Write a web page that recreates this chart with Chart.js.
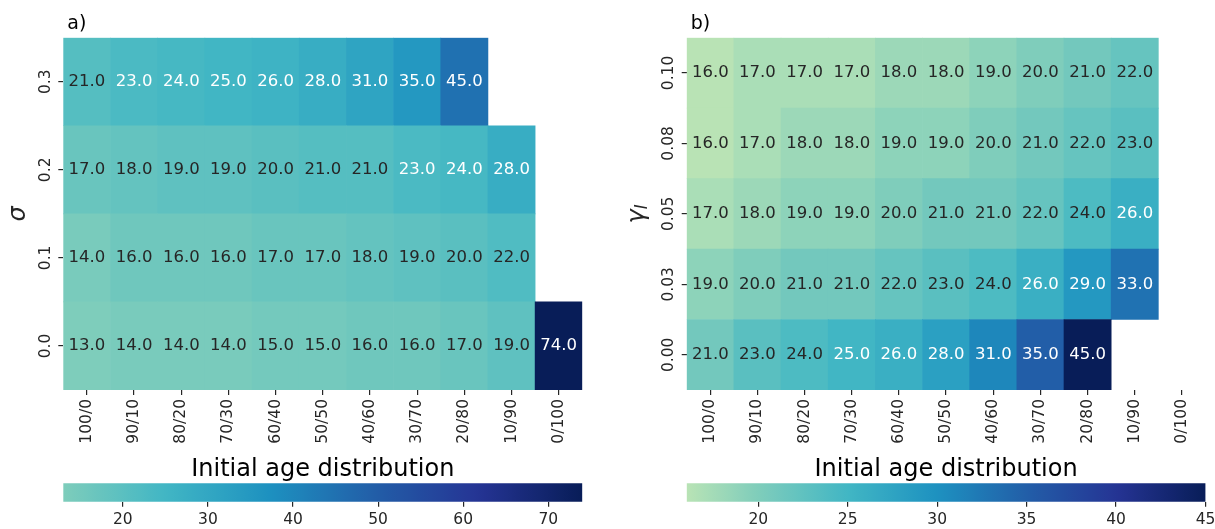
<!DOCTYPE html>
<html>
<head>
<meta charset="utf-8">
<script src="https://cdn.jsdelivr.net/npm/chart.js@4.4.1/dist/chart.umd.min.js"></script>
<style>
  html, body { margin: 0; padding: 0; background: #fff; }
  #page { position: relative; width: 1215px; height: 529px; overflow: hidden; }
  .box { position: absolute; }
</style>
</head>
<body>
<div id="page">
  <div class="box" style="left:0;top:0;width:600px;height:484px"><canvas id="heatA"></canvas></div>
  <div class="box" style="left:0;top:470px;width:600px;height:59px"><canvas id="barA"></canvas></div>
  <div class="box" style="left:600px;top:0;width:615px;height:484px"><canvas id="heatB"></canvas></div>
  <div class="box" style="left:600px;top:470px;width:615px;height:59px"><canvas id="barB"></canvas></div>
</div>
<script>
// ---- data ----
const ageLabels = ['100/0', '90/10', '80/20', '70/30', '60/40', '50/50', '40/60', '30/70', '20/80', '10/90', '0/100'];

// panel a) rows, bottom -> top
const sigmaLabels = ['0.0', '0.1', '0.2', '0.3'];
const sigma00 = [13, 14, 14, 14, 15, 15, 16, 16, 17, 19, 74];
const sigma01 = [14, 16, 16, 16, 17, 17, 18, 19, 20, 22, null];
const sigma02 = [17, 18, 19, 19, 20, 21, 21, 23, 24, 28, null];
const sigma03 = [21, 23, 24, 25, 26, 28, 31, 35, 45, null, null];
const sigmaRange = [13, 74];
const sigmaTicks = [20, 30, 40, 50, 60, 70];

// panel b) rows, bottom -> top
const gammaLabels = ['0.00', '0.03', '0.05', '0.08', '0.10'];
const gamma000 = [21, 23, 24, 25, 26, 28, 31, 35, 45, null, null];
const gamma003 = [19, 20, 21, 21, 22, 23, 24, 26, 29, 33, null];
const gamma005 = [17, 18, 19, 19, 20, 21, 21, 22, 24, 26, null];
const gamma008 = [16, 17, 18, 18, 19, 19, 20, 21, 22, 23, null];
const gamma010 = [16, 17, 17, 17, 18, 18, 19, 20, 21, 22, null];
const gammaRange = [16, 45];
const gammaTicks = [20, 25, 30, 35, 40, 45];

// ---- style ----
const FONT = "'DejaVu Sans', sans-serif";
const INK = '#262626';
const YLGNBU = ['#ffffd9', '#edf8b1', '#c7e9b4', '#7fcdbb', '#41b6c4', '#1d91c0', '#225ea8', '#253494', '#081d58'];
const YLGNBU_RGB = YLGNBU.map(h => [1, 3, 5].map(i => parseInt(h.slice(i, i + 2), 16)));
const CENTER = 25;

function sampleCmap(t) {
    t = Math.min(1, Math.max(0, t));
    const pos = t * (YLGNBU_RGB.length - 1);
    const i = Math.min(Math.floor(pos), YLGNBU_RGB.length - 2);
    const f = pos - i;
    const a = YLGNBU_RGB[i], b = YLGNBU_RGB[i + 1];
    return a.map((c, k) => Math.round(c + (b[k] - c) * f));
}

// colormap recentred on CENTER, like seaborn's `center=`
function cellRgb(v, range) {
    const [lo, hi] = range;
    const half = Math.max(hi - CENTER, CENTER - lo);
    return sampleCmap((v - (CENTER - half)) / (2 * half));
}
const rgbCss = c => `rgb(${c[0]},${c[1]},${c[2]})`;

function luminance(c) {
    const lin = c.map(x => {
        x /= 255;
        return x <= 0.03928 ? x / 12.92 : Math.pow((x + 0.055) / 1.055, 2.4);
    });
    return 0.2126 * lin[0] + 0.7152 * lin[1] + 0.0722 * lin[2];
}

// drop the label overhang padding chart.js adds, so the plot area stays where we put it
const noOverhang = s => { s.paddingLeft = 0; s.paddingRight = 0; };

function drawHeatmap(id, cfg) {
    const datasets = cfg.rows.map((row, r) => ({
        data: row
            .map((v, c) => (v == null ? null : { x: ageLabels[c], y: [r - 0.5, r + 0.5], v }))
            .filter(Boolean),
        backgroundColor: ctx => (ctx.raw ? rgbCss(cellRgb(ctx.raw.v, cfg.range)) : 'transparent'),
        borderWidth: 0,
        barPercentage: 1,
        categoryPercentage: 1,
        grouped: false
    }));

    const overlay = {
        id: 'overlay_' + id,
        afterDatasetsDraw(chart) {
            const ctx = chart.ctx;
            const area = chart.chartArea;

            // cell annotations
            ctx.save();
            ctx.font = `16.5px ${FONT}`;
            ctx.textAlign = 'center';
            ctx.textBaseline = 'middle';
            chart.data.datasets.forEach((ds, i) => {
                chart.getDatasetMeta(i).data.forEach((bar, j) => {
                    const raw = ds.data[j];
                    const lum = luminance(cellRgb(raw.v, cfg.range));
                    ctx.fillStyle = lum > 0.408 ? INK : '#ffffff';
                    ctx.fillText(raw.v.toFixed(1), bar.x, (bar.y + bar.base) / 2);
                });
            });
            ctx.restore();

            // rotated y tick labels
            const ys = chart.scales.y;
            ctx.save();
            ctx.font = `15.5px ${FONT}`;
            ctx.fillStyle = INK;
            ctx.textAlign = 'center';
            ctx.textBaseline = 'alphabetic';
            cfg.rowLabels.forEach((lab, i) => {
                ctx.save();
                ctx.translate(ys.right - 13.6, ys.getPixelForValue(i));
                ctx.rotate(-Math.PI / 2);
                ctx.fillText(lab, 0, 0);
                ctx.restore();
            });
            ctx.restore();

            // y title (rotated, with optional subscript)
            ctx.save();
            ctx.translate(cfg.yTitleX, (area.top + area.bottom) / 2);
            ctx.rotate(-Math.PI / 2);
            ctx.fillStyle = INK;
            ctx.textAlign = 'left';
            ctx.textBaseline = 'alphabetic';
            let total = 0;
            cfg.yTitle.forEach(p => {
                ctx.font = `italic ${p.size}px ${FONT}`;
                p.w = ctx.measureText(p.text).width;
                total += p.w;
            });
            let x = -total / 2;
            cfg.yTitle.forEach(p => {
                ctx.font = `italic ${p.size}px ${FONT}`;
                ctx.fillText(p.text, x, p.shift || 0);
                x += p.w;
            });
            ctx.restore();

            // panel letter
            ctx.save();
            ctx.font = `19px ${FONT}`;
            ctx.fillStyle = '#000';
            ctx.textAlign = 'left';
            ctx.textBaseline = 'alphabetic';
            ctx.fillText(cfg.letter, area.left + 4, 29.3);
            ctx.restore();
        }
    };

    return new Chart(document.getElementById(id), {
        type: 'bar',
        data: { labels: ageLabels, datasets },
        options: {
            responsive: true,
            maintainAspectRatio: false,
            animation: false,
            layout: { padding: { top: 37.7, right: cfg.padRight, left: 0, bottom: 0 } },
            plugins: { legend: { display: false }, tooltip: { enabled: false } },
            scales: {
                x: {
                    type: 'category',
                    offset: true,
                    border: { display: false },
                    grid: { offset: false, drawOnChartArea: false, drawTicks: true, tickLength: 5, color: INK, lineWidth: 1.2 },
                    ticks: {
                        autoSkip: false, minRotation: 90, maxRotation: 90, padding: 4,
                        color: INK, font: { family: FONT, size: 15.5 }
                    },
                    title: {
                        display: true, text: 'Initial age distribution', color: '#000',
                        font: { family: FONT, size: 24 }, padding: 0
                    },
                    afterFit: s => { s.height = 94; noOverhang(s); }
                },
                y: {
                    type: 'linear',
                    min: -0.5,
                    max: cfg.rowLabels.length - 0.5,
                    border: { display: false },
                    grid: { drawOnChartArea: false, drawTicks: true, tickLength: 5, color: INK, lineWidth: 1.2 },
                    ticks: { display: false },
                    afterBuildTicks: s => { s.ticks = cfg.rowLabels.map((_, i) => ({ value: i })); },
                    afterFit: s => { s.width = cfg.axisWidth; }
                }
            }
        },
        plugins: [overlay]
    });
}

function drawColorbar(id, range, ticks, padLeft, padRight) {
    const [lo, hi] = range;
    return new Chart(document.getElementById(id), {
        type: 'bar',
        data: {
            labels: ['cb'],
            datasets: [{
                data: [[lo, hi]],
                borderWidth: 0,
                barPercentage: 1,
                categoryPercentage: 1,
                backgroundColor: ctx => {
                    const a = ctx.chart.chartArea;
                    if (!a) return 'transparent';
                    const g = ctx.chart.ctx.createLinearGradient(a.left, 0, a.right, 0);
                    const n = 48;
                    for (let k = 0; k <= n; k++) {
                        g.addColorStop(k / n, rgbCss(cellRgb(lo + (hi - lo) * k / n, range)));
                    }
                    return g;
                }
            }]
        },
        options: {
            indexAxis: 'y',
            responsive: true,
            maintainAspectRatio: false,
            animation: false,
            layout: { padding: { top: 13.3, left: padLeft, right: padRight, bottom: 0 } },
            plugins: { legend: { display: false }, tooltip: { enabled: false } },
            scales: {
                x: {
                    type: 'linear',
                    min: lo,
                    max: hi,
                    border: { display: false },
                    grid: { drawOnChartArea: false, drawTicks: true, tickLength: 5, color: INK, lineWidth: 1.2 },
                    ticks: { padding: 4, maxRotation: 0, color: INK, font: { family: FONT, size: 15.5 } },
                    afterBuildTicks: s => { s.ticks = ticks.map(v => ({ value: v })); },
                    afterFit: s => { s.height = 27.3; noOverhang(s); }
                },
                y: { display: false }
            }
        }
    });
}

drawHeatmap('heatA', {
    rows: [sigma00, sigma01, sigma02, sigma03],
    rowLabels: sigmaLabels,
    range: sigmaRange,
    axisWidth: 63.3,
    padRight: 17.7,
    yTitleX: 25,
    yTitle: [{ text: 'σ', size: 24 }],
    letter: 'a)'
});
drawColorbar('barA', sigmaRange, sigmaTicks, 63.3, 17.7);

drawHeatmap('heatB', {
    rows: [gamma000, gamma003, gamma005, gamma008, gamma010],
    rowLabels: gammaLabels,
    range: gammaRange,
    axisWidth: 86.7,
    padRight: 9.5,
    yTitleX: 44,
    yTitle: [{ text: 'γ', size: 24 }, { text: 'I', size: 16.8, shift: 3 }],
    letter: 'b)'
});
drawColorbar('barB', gammaRange, gammaTicks, 86.7, 9.5);
</script>
</body>
</html>
